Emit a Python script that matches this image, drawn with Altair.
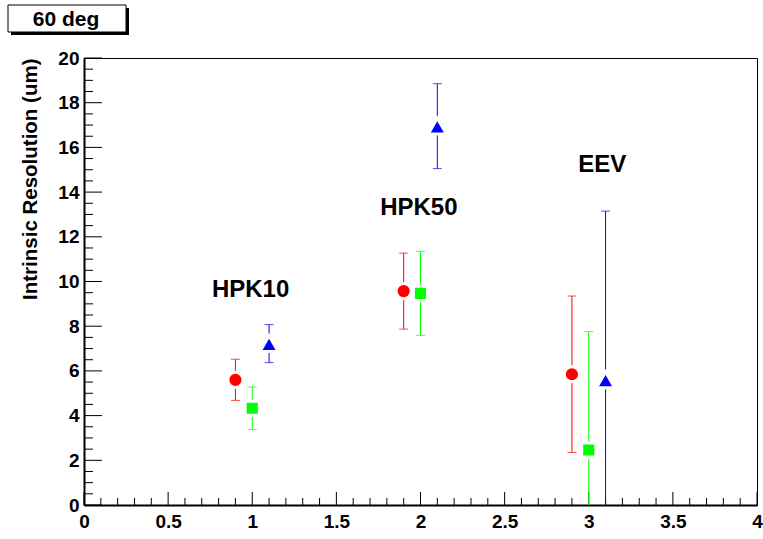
import altair as alt
import pandas as pd

# ---- data ----
series = ["red", "green", "blue"]
x_red = [0.9, 1.9, 2.9]
x_green = [1.0, 2.0, 3.0]
x_blue = [1.1, 2.1, 3.1]
y_red = [5.6, 9.57, 5.85]
e_red = [0.92, 1.7, 3.5]
y_green = [4.33, 9.47, 2.46]
e_green = [0.95, 1.88, 5.3]
y_blue = [7.22, 16.95, 5.6]
e_blue = [0.85, 1.9, 7.55]

labels = ["HPK10", "HPK50", "EEV"]
label_x = [0.99, 1.99, 3.08]
label_y = [9.62, 13.29, 15.2]

x_major = [0, 0.5, 1, 1.5, 2, 2.5, 3, 3.5, 4]
y_major = [0, 2, 4, 6, 8, 10, 12, 14, 16, 18, 20]
x_minor = [round(i * 0.1, 1) for i in range(41) if i % 5 != 0]
y_minor = [round(i * 0.5, 1) for i in range(41) if i % 4 != 0]

W, H = 673, 447
FONT = "Liberation Sans"

rows = []
for name, xs, ys, es in [("red", x_red, y_red, e_red),
                         ("green", x_green, y_green, e_green),
                         ("blue", x_blue, y_blue, e_blue)]:
    for xv, yv, ev in zip(xs, ys, es):
        rows.append({"series": name, "x": xv, "y": yv,
                     "lo": max(0.0, yv - ev), "hi": yv + ev,
                     "cap_lo": yv - ev >= 0})
df = pd.DataFrame(rows)

colors = {"red": "#ff0000", "green": "#00ff00", "blue": "#0000ff"}
shapes = {"red": "circle", "green": "square", "blue": "triangle-up"}
sizes = {"red": 230, "green": 200, "blue": 330}

xscale = alt.Scale(domain=[0, 4], nice=False, zero=False)
yscale = alt.Scale(domain=[0, 20], nice=False, zero=False)

base = alt.Chart(df)

layers = []
axis_layer = alt.Chart(pd.DataFrame({"x": [0], "y": [0]})).mark_point(opacity=0).encode(
    x=alt.X("x:Q", scale=xscale,
            axis=alt.Axis(values=x_major, labelExpr="''+datum.value", title=None,
                          ticks=False, grid=False, domainColor="black", domainWidth=2,
                          labelFont=FONT, labelFontWeight="bold", labelFontSize=19,
                          labelColor="black", labelPadding=7, labelFlush=False)),
    y=alt.Y("y:Q", scale=yscale,
            axis=alt.Axis(values=y_major, title="Intrinsic Resolution (um)",
                          ticks=False, grid=False, domainColor="black", domainWidth=2,
                          labelFont=FONT, labelFontWeight="bold", labelFontSize=19,
                          labelColor="black", labelPadding=5, labelFlush=False,
                          titleFont=FONT, titleFontWeight="bold", titleFontSize=20.5,
                          titleColor="black", titleAnchor="end", titleX=-54, titleY=0,
                          titleAlign="right", titleBaseline="middle", titleAngle=-90)),
)
layers.append(axis_layer)

# inward ticks
xmaj = alt.Chart(pd.DataFrame({"t": x_major})).mark_rule(color="black", strokeWidth=1).encode(
    x=alt.X("t:Q", scale=xscale), y=alt.value(H), y2=alt.value(H - 13))
xmin = alt.Chart(pd.DataFrame({"t": x_minor})).mark_rule(color="black", strokeWidth=1).encode(
    x=alt.X("t:Q", scale=xscale), y=alt.value(H), y2=alt.value(H - 7))
ymaj = alt.Chart(pd.DataFrame({"t": y_major})).mark_rule(color="black", strokeWidth=1).encode(
    y=alt.Y("t:Q", scale=yscale), x=alt.value(0), x2=alt.value(18))
ymin = alt.Chart(pd.DataFrame({"t": y_minor})).mark_rule(color="black", strokeWidth=1).encode(
    y=alt.Y("t:Q", scale=yscale), x=alt.value(0), x2=alt.value(9))
layers += [xmaj, xmin, ymaj, ymin]

for name in series:
    sub = base.transform_filter(alt.datum.series == name)
    c = colors[name]
    bars = sub.mark_rule(color=c, strokeWidth=1, clip=True).encode(
        x=alt.X("x:Q", scale=xscale), y=alt.Y("lo:Q", scale=yscale), y2="hi:Q")
    cap_hi = sub.mark_tick(color=c, thickness=1, size=9, orient="horizontal", clip=True).encode(
        x=alt.X("x:Q", scale=xscale), y=alt.Y("hi:Q", scale=yscale))
    cap_lo = sub.transform_filter(alt.datum.cap_lo).mark_tick(
        color=c, thickness=1, size=9, orient="horizontal", clip=True).encode(
        x=alt.X("x:Q", scale=xscale), y=alt.Y("lo:Q", scale=yscale))
    pts = sub.mark_point(shape=shapes[name], filled=True, fill=c, stroke="white",
                         strokeWidth=3, opacity=1, size=sizes[name]).encode(
        x=alt.X("x:Q", scale=xscale), y=alt.Y("y:Q", scale=yscale))
    layers += [bars, cap_hi, cap_lo, pts]

lab = alt.Chart(pd.DataFrame({"label": labels, "lx": label_x, "ly": label_y})).mark_text(
    font=FONT, fontWeight="bold", fontSize=24, color="black", align="center", baseline="middle"
).encode(x=alt.X("lx:Q", scale=xscale), y=alt.Y("ly:Q", scale=yscale), text="label:N")
layers.append(lab)

# title box "60 deg"
box_df = pd.DataFrame({"title": ["60 deg"]})
shadow = alt.Chart(box_df).mark_rect(color="black", clip=False).encode(
    x=alt.value(-73), x2=alt.value(45), y=alt.value(-50), y2=alt.value(-23))
box = alt.Chart(box_df).mark_rect(fill="white", stroke="black", strokeWidth=1, clip=False).encode(
    x=alt.value(-76), x2=alt.value(42), y=alt.value(-53), y2=alt.value(-26))
ttl = alt.Chart(box_df).mark_text(font=FONT, fontWeight="bold", fontSize=21, color="black",
                                  align="center", baseline="middle").encode(
    x=alt.value(-18), y=alt.value(-38.5), text="title:N")
layers += [shadow, box, ttl]

chart = alt.layer(*layers).properties(
    width=W, height=H,
    autosize=alt.AutoSizeParams(type="none"),
    padding={"left": 84, "top": 58, "right": 6, "bottom": 34},
    background="white",
).configure_view(stroke="black", strokeWidth=1)

chart.save("out.html", embed_options={"renderer": "svg", "actions": False})
